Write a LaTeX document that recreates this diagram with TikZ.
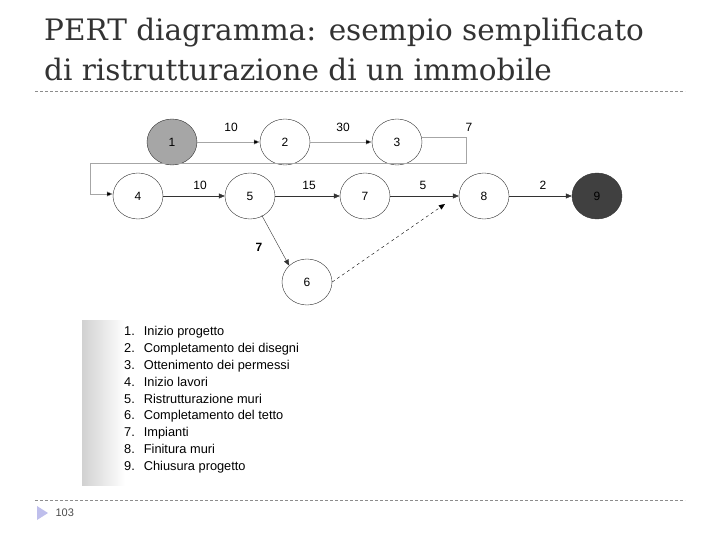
\documentclass[tikz,border=0pt]{standalone}
\usepackage{fontspec}
\setmainfont{DejaVu Serif}
\newfontfamily\arial{Liberation Sans}
\usetikzlibrary{arrows.meta,shapes.geometric}
\begin{document}
\begin{tikzpicture}[x=1pt,y=-1pt,
  ev/.style={ellipse,draw=black!80,thin,minimum width=50pt,minimum height=46pt,inner sep=0pt,font=\arial\fontsize{12}{12}\selectfont},
  faint/.style={draw=black!35,-{Triangle[length=6pt,width=5pt,fill=black]}},
  solid/.style={draw=black!80,-{Triangle[length=6pt,width=5pt]}},
  lab/.style={font=\arial\fontsize{12}{12}\selectfont},
  sep/.style={draw=black!45,dashed,dash pattern=on 3pt off 2pt}]
\useasboundingbox (0,0) rectangle (720,540);
\node[anchor=west,font=\fontsize{29.5}{40}\selectfont,text=black!80,align=left,inner sep=0pt] (t) at (44,50) {PERT diagramma: esempio semplificato\\di ristrutturazione di un immobile};
\draw[sep] (35,91) -- (685,91);
\draw[sep] (35,500) -- (685,500);
\fill[left color=black!18,right color=white,draw=none] (82,320) rectangle (125,485);
\node[ev,fill=black!35] (n1) at (172,142) {1};
\node[ev] (n2) at (285,142) {2};
\node[ev] (n3) at (397,142) {3};
\node[ev] (n4) at (138,196) {4};
\node[ev] (n5) at (250,196) {5};
\node[ev] (n7) at (365,196) {7};
\node[ev] (n8) at (484,196) {8};
\node[ev,fill=black!75] (n9) at (597,196) {9};
\node[ev] (n6) at (307,282) {6};
\draw[faint] (n1) -- (n2);
\draw[faint] (n2) -- (n3);
\coordinate (c1) at (466,137);
\coordinate (c2) at (466,163);
\coordinate (c3) at (90,163);
\coordinate (c4) at (90,194);
\draw[faint] (n3.east |- c1) -- (c1) -- (c2) -- (c3) -- (c4) -- (n4.west |- c4);
\draw[solid] (n4) -- (n5);
\draw[solid] (n5) -- (n7);
\draw[solid] (n7) -- (n8);
\draw[solid] (n8) -- (n9);
\draw[solid,thin] (n5.south east) ++(-6,3) coordinate (s5) -- (n6.north west) coordinate (e6);
\coordinate (d8) at (445,204);
\draw[dashed,thin,-{Triangle[length=6pt,width=5pt]}] (n6.east) -- (d8);
\node[lab] (l1) at (231,127) {10};
\node[lab] (l2) at (343,127) {30};
\node[lab] (l3) at (469,127) {7};
\node[lab] (l4) at (200,185) {10};
\node[lab] (l5) at (309,185) {15};
\node[lab] (l6) at (423,185) {5};
\node[lab] (l7) at (543,185) {2};
\node[lab,font=\arial\bfseries\fontsize{12}{12}\selectfont] (l8) at (259,247) {7};
\node[anchor=north west,font=\arial\fontsize{12.8}{16.8}\selectfont,inner sep=0pt] (list) at (124,324) {%
\begin{tabular}{@{}r@{\hspace{9pt}}l@{}}
1.&Inizio progetto\\ 2.&Completamento dei disegni\\ 3.&Ottenimento dei permessi\\
4.&Inizio lavori\\ 5.&Ristrutturazione muri\\ 6.&Completamento del tetto\\
7.&Impianti\\ 8.&Finitura muri\\ 9.&Chiusura progetto
\end{tabular}};
\fill[fill=black!30!blue!25!white] (37,506) coordinate (tr1) -- (48,513) -- (37,520) -- cycle;
\node[anchor=west,font=\arial\fontsize{11}{11}\selectfont,text=black!70] (pg) at (52,513) {103};
\end{tikzpicture}
\end{document}
